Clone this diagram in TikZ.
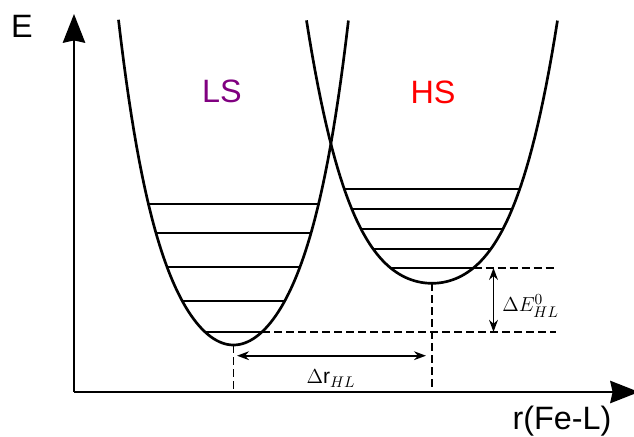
\documentclass[tikz,border=0pt]{standalone}
\usepackage{fontspec}
\setmainfont{Liberation Sans}
\usetikzlibrary{arrows.meta}
\definecolor{lspurple}{RGB}{128,0,128}

\begin{document}
\begin{tikzpicture}[x=0.025cm, y=-0.025cm, >=Stealth,
  declare function={lsdrop(\w)=160*\w*\w+56.5*abs(\w)^5; hsdrop(\w)=80*\w*\w+55.2*\w*\w*\w*\w;},
  axis/.style={line width=1.4pt, -{Stealth[length=0.72cm, width=0.56cm, inset=0.06cm]}},
  well/.style={line width=1.9pt, samples=90, variable=\w},
  level/.style={line width=1.4pt},
  guide/.style={line width=1.2pt, dash pattern=on 0.2cm off 0.1cm},
  gap/.style={line width=1.2pt, {Stealth[length=0.3cm, width=0.22cm]}-{Stealth[length=0.3cm, width=0.22cm]}},
  biglabel/.style={anchor=base, inner sep=0pt, font=\fontsize{23}{27}\selectfont},
  smalllabel/.style={inner sep=0pt, font=\fontsize{15}{17}\selectfont}]
\useasboundingbox (0,0) rectangle (634,436);

% axes
\coordinate (origin) at (74,392);
\coordinate (etop) at (74,14);
\coordinate (rend) at (639,392);
\draw[axis] (origin) -- (etop);
\draw[axis] (origin) -- (rend);
\node[biglabel] (elabel) at (22,37.7) {E};
\node[biglabel] (rlabel) at (562,429.5) {r(Fe-L)};

% potential wells
\draw[well, domain=-1.15:1.15] plot ({233.5+100*\w}, {345-lsdrop(\w)});
\draw[well, domain=-1.255:1.255] plot ({432+100*\w}, {283.3-hsdrop(\w)});
\node[biglabel, text=lspurple] (ls) at (222,102.7) {LS};
\node[biglabel, text=red] (hs) at (433,103) {HS};

% vibrational levels
\foreach \u in {0.85, 0.775, 0.665, 0.51, 0.285}
  \draw[level] ({233.5-100*\u},{345-lsdrop(\u)}) -- ({233.5+100*\u},{345-lsdrop(\u)});
\foreach \u in {0.878, 0.803, 0.708, 0.587, 0.415}
  \draw[level] ({432-100*\u},{283.3-hsdrop(\u)}) -- ({432+100*\u},{283.3-hsdrop(\u)});

% minima and offsets
\coordinate (lsmin) at (233.5,345);
\coordinate (hsmin) at (432,283.3);
\coordinate (lsfoot) at (233.5,392);
\coordinate (hsfoot) at (432,392);
\coordinate (lszero) at ({233.5+28.5},{345-lsdrop(0.285)});
\coordinate (hszero) at ({432+41.5},{283.3-hsdrop(0.415)});
\coordinate (lsguide) at (556,0 |- lszero);
\coordinate (hsguide) at (556,0 |- hszero);
\draw[guide] (lsmin) -- (lsfoot);
\draw[guide] (hsmin) -- (hsfoot);
\draw[guide] (lszero) -- (lsguide);
\draw[guide] (hszero) -- (hsguide);

\coordinate (etopgap) at (493.5,0 |- hszero);
\coordinate (ebotgap) at (493.5,0 |- lszero);
\draw[gap] (etopgap) -- (ebotgap);
\node[smalllabel, anchor=base west] (de) at (502,311.7) {$\Delta E^{0}_{HL}$};

\coordinate (rleft) at (237,355.7);
\coordinate (rright) at (426,355.7);
\draw[gap] (rleft) -- (rright);
\node[smalllabel, anchor=base] (dr) at (331,383.5) {$\Delta$r$_{HL}$};
\end{tikzpicture}
\end{document}
